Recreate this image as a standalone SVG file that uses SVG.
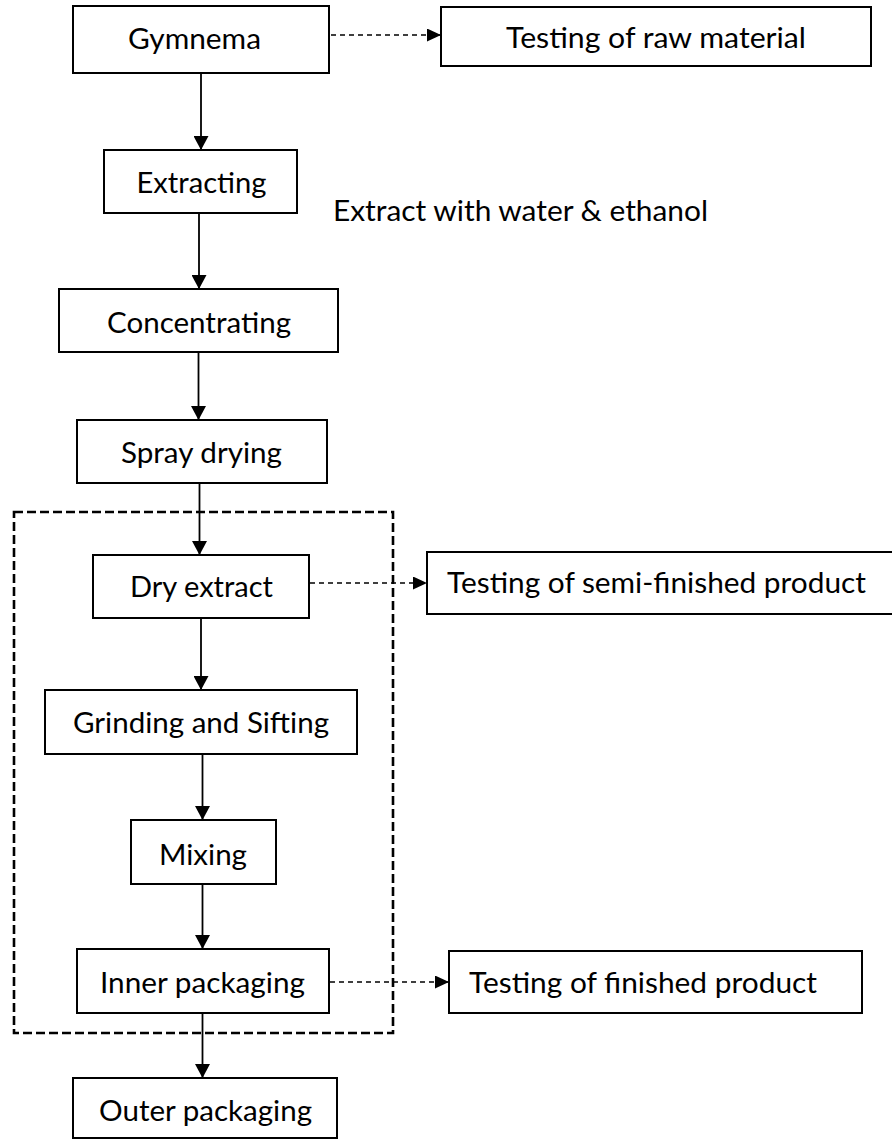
<svg xmlns="http://www.w3.org/2000/svg" width="892" height="1140" viewBox="0 0 892 1140">
<style>
.box{fill:#fff;stroke:#000;stroke-width:2}
.t{font-family:Lato,"Liberation Sans",sans-serif;font-size:29px;fill:#000}
.solid{stroke:#000;stroke-width:1.8;fill:none}
.dash{stroke:#000;stroke-width:1.6;fill:none;stroke-dasharray:5 4}
.frame{stroke:#000;stroke-width:2.6;fill:none;stroke-dasharray:9 4}
</style>
<defs>
<marker id="ah" markerUnits="userSpaceOnUse" markerWidth="15" markerHeight="15" refX="14" refY="7.5" orient="auto">
<path d="M0,0 L14,7.5 L0,15 z" fill="#000"/>
</marker>
<marker id="ahd" markerUnits="userSpaceOnUse" markerWidth="15" markerHeight="13" refX="14" refY="6.5" orient="auto">
<path d="M0,0 L14,6.5 L0,13 z" fill="#000"/>
</marker>
</defs>
<rect width="892" height="1140" fill="#fff"/>
<g id="group-frame">
<rect class="frame" x="14" y="512" width="379" height="521"/>
</g>
<g id="connectors">
<line class="dash" x1="331" y1="35" x2="441" y2="35" marker-end="url(#ahd)"/>
<line class="solid" x1="201" y1="74" x2="201" y2="150" marker-end="url(#ah)"/>
<line class="solid" x1="199" y1="213" x2="199" y2="289" marker-end="url(#ah)"/>
<line class="solid" x1="198.5" y1="352" x2="198.5" y2="420" marker-end="url(#ah)"/>
<line class="solid" x1="199.5" y1="484" x2="199.5" y2="555" marker-end="url(#ah)"/>
<line class="dash" x1="310" y1="583" x2="427" y2="583" marker-end="url(#ahd)"/>
<line class="solid" x1="201" y1="618" x2="201" y2="690" marker-end="url(#ah)"/>
<line class="solid" x1="202.5" y1="754" x2="202.5" y2="820" marker-end="url(#ah)"/>
<line class="solid" x1="202.5" y1="884" x2="202.5" y2="949" marker-end="url(#ah)"/>
<line class="dash" x1="330" y1="982" x2="449" y2="982" marker-end="url(#ahd)"/>
<line class="solid" x1="202.5" y1="1013" x2="202.5" y2="1078" marker-end="url(#ah)"/>
</g>
<g id="node-gymnema">
<rect class="box" x="73" y="6" width="256" height="67"/>
<text class="t" x="128" y="49" textLength="133" lengthAdjust="spacingAndGlyphs">Gymnema</text>
</g>
<g id="node-testing-raw">
<rect class="box" x="441" y="7" width="430" height="59"/>
<text class="t" x="506" y="48" textLength="300" lengthAdjust="spacingAndGlyphs">Testing of raw material</text>
</g>
<g id="node-extracting">
<rect class="box" x="104" y="150" width="193" height="63"/>
<text class="t" x="136.5" y="193" textLength="130" lengthAdjust="spacingAndGlyphs">Extracting</text>
</g>
<g id="label-extract">
<text class="t" x="333" y="221" textLength="375" lengthAdjust="spacingAndGlyphs">Extract with water &amp; ethanol</text>
</g>
<g id="node-concentrating">
<rect class="box" x="59" y="289" width="279" height="63"/>
<text class="t" x="107" y="333" textLength="184" lengthAdjust="spacingAndGlyphs">Concentrating</text>
</g>
<g id="node-spray">
<rect class="box" x="77" y="420" width="250" height="63"/>
<text class="t" x="121" y="463" textLength="161" lengthAdjust="spacingAndGlyphs">Spray drying</text>
</g>
<g id="node-dry">
<rect class="box" x="93" y="555" width="216" height="63"/>
<text class="t" x="130" y="597" textLength="143" lengthAdjust="spacingAndGlyphs">Dry extract</text>
</g>
<g id="node-testing-semi">
<rect class="box" x="427" y="552" width="470" height="62"/>
<text class="t" x="447" y="593" textLength="419" lengthAdjust="spacingAndGlyphs">Testing of semi-finished product</text>
</g>
<g id="node-grinding">
<rect class="box" x="45" y="690" width="312" height="64"/>
<text class="t" x="73" y="733" textLength="256" lengthAdjust="spacingAndGlyphs">Grinding and Sifting</text>
</g>
<g id="node-mixing">
<rect class="box" x="131" y="820" width="145" height="64"/>
<text class="t" x="159" y="865" textLength="88" lengthAdjust="spacingAndGlyphs">Mixing</text>
</g>
<g id="node-inner">
<rect class="box" x="77" y="949" width="252" height="64"/>
<text class="t" x="100" y="993" textLength="205" lengthAdjust="spacingAndGlyphs">Inner packaging</text>
</g>
<g id="node-testing-finished">
<rect class="box" x="449" y="951" width="413" height="62"/>
<text class="t" x="469" y="993" textLength="348" lengthAdjust="spacingAndGlyphs">Testing of finished product</text>
</g>
<g id="node-outer">
<rect class="box" x="73" y="1078" width="264" height="60"/>
<text class="t" x="99" y="1121" textLength="213" lengthAdjust="spacingAndGlyphs">Outer packaging</text>
</g>
</svg>
